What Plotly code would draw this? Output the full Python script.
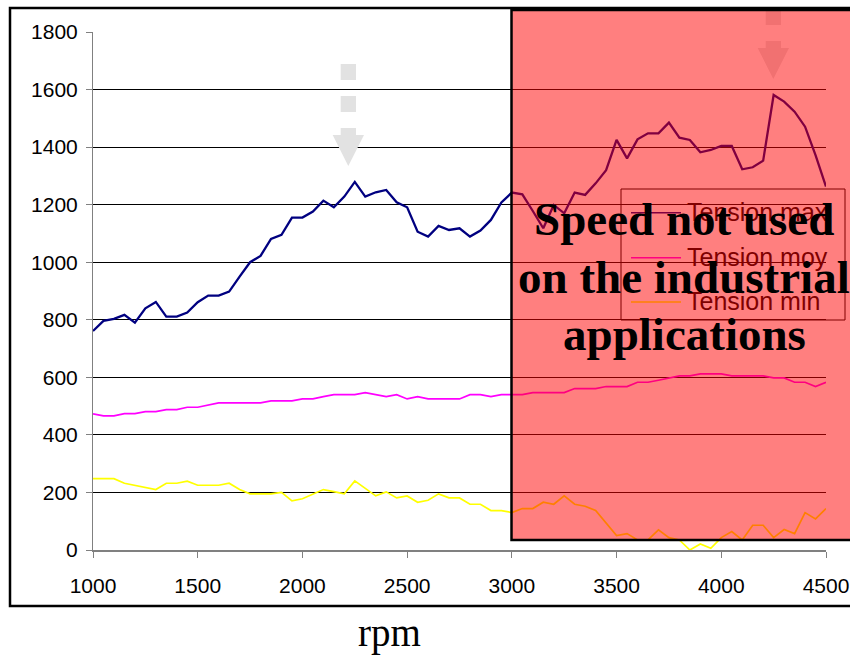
import plotly.graph_objects as go

# Engine speed grid (rpm)
rpm = [1000, 1050, 1100, 1150, 1200, 1250, 1300, 1350, 1400, 1450,
       1500, 1550, 1600, 1650, 1700, 1750, 1800, 1850, 1900, 1950,
       2000, 2050, 2100, 2150, 2200, 2250, 2300, 2350, 2400, 2450,
       2500, 2550, 2600, 2650, 2700, 2750, 2800, 2850, 2900, 2950,
       3000, 3050, 3100, 3150, 3200, 3250, 3300, 3350, 3400, 3450,
       3500, 3550, 3600, 3650, 3700, 3750, 3800, 3850, 3900, 3950,
       4000, 4050, 4100, 4150, 4200, 4250, 4300, 4350, 4400, 4450,
       4500]

tension_max = [761, 796, 803, 817, 790, 840, 862, 811, 811, 825,
               861, 884, 884, 898, 950, 1000, 1022, 1081, 1095, 1155,
               1155, 1176, 1214, 1191, 1228, 1279, 1228, 1243, 1251, 1208,
               1191, 1106, 1089, 1126, 1112, 1118, 1089, 1110, 1147, 1208,
               1242, 1236, 1178, 1118, 1199, 1170, 1242, 1234, 1274, 1320,
               1425, 1361, 1427, 1448, 1448, 1485, 1433, 1425, 1382, 1390,
               1404, 1404, 1323, 1330, 1353, 1581, 1558, 1523, 1471, 1372,
               1263]

tension_moy = [473, 466, 466, 474, 474, 481, 481, 488, 488, 496,
               496, 504, 511, 511, 511, 511, 511, 518, 518, 518,
               525, 525, 533, 540, 540, 540, 547, 540, 533, 540,
               525, 533, 525, 525, 525, 525, 540, 540, 533, 540,
               540, 540, 547, 547, 547, 547, 561, 561, 561, 568,
               568, 568, 583, 583, 590, 597, 605, 605, 612, 612,
               612, 605, 605, 605, 605, 598, 598, 583, 583, 568,
               583]

tension_min = [248, 248, 248, 232, 225, 218, 210, 232, 232, 239,
               225, 225, 225, 232, 210, 195, 195, 195, 200, 171,
               178, 195, 210, 203, 195, 240, 214, 188, 202, 181,
               188, 166, 173, 195, 181, 181, 159, 159, 137, 137,
               130, 144, 144, 166, 159, 188, 159, 152, 137, 94,
               50, 57, 35, 35, 70, 43, 35, 0, 21, 6,
               43, 64, 35, 86, 86, 43, 71, 57, 130, 108,
               144]

x_ticks = [1000, 1500, 2000, 2500, 3000, 3500, 4000, 4500]
y_ticks = [0, 200, 400, 600, 800, 1000, 1200, 1400, 1600, 1800]

series_names = ["Tension max", "Tension moy", "Tension min"]
series_colors = ["#000080", "#FF00FF", "#FFFF00"]
# the same colours as seen through the red highlight (legend sits inside it)
legend_colors = ["#800040", "#FF0080", "#FF8000"]
line_widths = [2.3, 1.7, 1.7]

W, H = 850, 658
L, R, T, B = 93, 24, 32, 108
PW, PH = W - L - R, H - T - B


def px(xp):
    return (xp - L) / PW


def py(yp):
    return (H - B - yp) / PH


fig = go.Figure()
for name, vals, col, lw in zip(series_names,
                               [tension_max, tension_moy, tension_min],
                               series_colors, line_widths):
    fig.add_trace(go.Scatter(x=rpm, y=vals, mode="lines", name=name,
                             line=dict(color=col, width=lw),
                             showlegend=False))

shapes = []


def arrow_path(dx, dy):
    # dashed downward arrow: two squares then a head
    parts = []
    for top in (64, 96):
        parts.append("M{:.5f},{:.5f} L{:.5f},{:.5f} L{:.5f},{:.5f} L{:.5f},{:.5f} Z".format(
            px(340.7 + dx), py(top + dy), px(356 + dx), py(top + dy),
            px(356 + dx), py(top + 16 + dy), px(340.7 + dx), py(top + 16 + dy)))
    pts = [(340.7, 128), (356, 128), (356, 135), (364, 135), (348.3, 166),
           (332.7, 135), (340.7, 135)]
    d = "M" + " L".join("{:.5f},{:.5f}".format(px(a + dx), py(b + dy)) for a, b in pts) + " Z"
    parts.append(d)
    return " ".join(parts)


for dx, dy in ((0, 0), (425, -87)):
    shapes.append(dict(type="path", xref="paper", yref="paper",
                       path=arrow_path(dx, dy), fillcolor="#E2E2E2",
                       line=dict(width=0), layer="above"))

# highlighted speed range
shapes.append(dict(type="rect", xref="paper", yref="paper",
                   x0=px(511.5), x1=px(905), y0=py(540), y1=py(10),
                   fillcolor="rgba(255,0,0,0.5)",
                   line=dict(color="black", width=2.5), layer="above"))

# outer chart frame
shapes.append(dict(type="rect", xref="paper", yref="paper",
                   x0=px(10), x1=px(905), y0=py(606), y1=py(8),
                   fillcolor="rgba(0,0,0,0)",
                   line=dict(color="black", width=2.5), layer="above"))

# legend box
shapes.append(dict(type="rect", xref="paper", yref="paper",
                   x0=px(621), x1=px(845), y0=py(320), y1=py(189),
                   fillcolor="rgba(0,0,0,0)",
                   line=dict(color="#800000", width=1), layer="above"))

annotations = []
row_y = [212.7, 257.7, 302]
for name, col, ry in zip(series_names, legend_colors, row_y):
    shapes.append(dict(type="line", xref="paper", yref="paper",
                       x0=px(631), x1=px(681), y0=py(ry), y1=py(ry),
                       line=dict(color=col, width=1.6), layer="above"))
    annotations.append(dict(xref="paper", yref="paper", x=px(685), y=py(ry - 1),
                            xanchor="left", yanchor="middle", showarrow=False,
                            text=name,
                            font=dict(family="Liberation Sans, Arial", size=25,
                                      color="#800000")))

for line_text, cy in zip(["Speed not used", "on the industrial", "applications"],
                         [219, 277, 334]):
    annotations.append(dict(xref="paper", yref="paper", x=px(684), y=py(cy),
                            xanchor="center", yanchor="middle", showarrow=False,
                            text="<b>" + line_text + "</b>",
                            font=dict(family="Liberation Serif, Times New Roman",
                                      size=47, color="black")))

# x-axis title, centred under the whole chart frame
annotations.append(dict(xref="paper", yref="paper", x=px(389), y=py(633),
                        xanchor="center", yanchor="middle", showarrow=False,
                        text="rpm",
                        font=dict(family="Liberation Serif, Times New Roman",
                                  size=39, color="black")))

fig.update_layout(
    width=W, height=H,
    margin=dict(l=L, r=R, t=T, b=B, autoexpand=False),
    paper_bgcolor="white", plot_bgcolor="white",
    showlegend=False,
    font=dict(family="Liberation Sans, Arial", color="black"),
    shapes=shapes,
    annotations=annotations,
    xaxis=dict(range=[1000, 4500], tickvals=x_ticks,
               showgrid=False, zeroline=False,
               showline=True, linecolor="#808080", linewidth=2,
               ticks="outside", ticklen=6, tickcolor="#808080", tickwidth=1,
               tickfont=dict(size=21, color="black"),
               ticklabelstandoff=10),
    yaxis=dict(range=[0, 1800], tickvals=y_ticks,
               showgrid=True, gridcolor="black", gridwidth=1, zeroline=False,
               showline=True, linecolor="#808080", linewidth=1,
               ticks="outside", ticklen=6, tickcolor="#808080", tickwidth=1,
               tickfont=dict(size=21, color="black"),
               ticklabelstandoff=4),
)

fig.write_html("out.html")
